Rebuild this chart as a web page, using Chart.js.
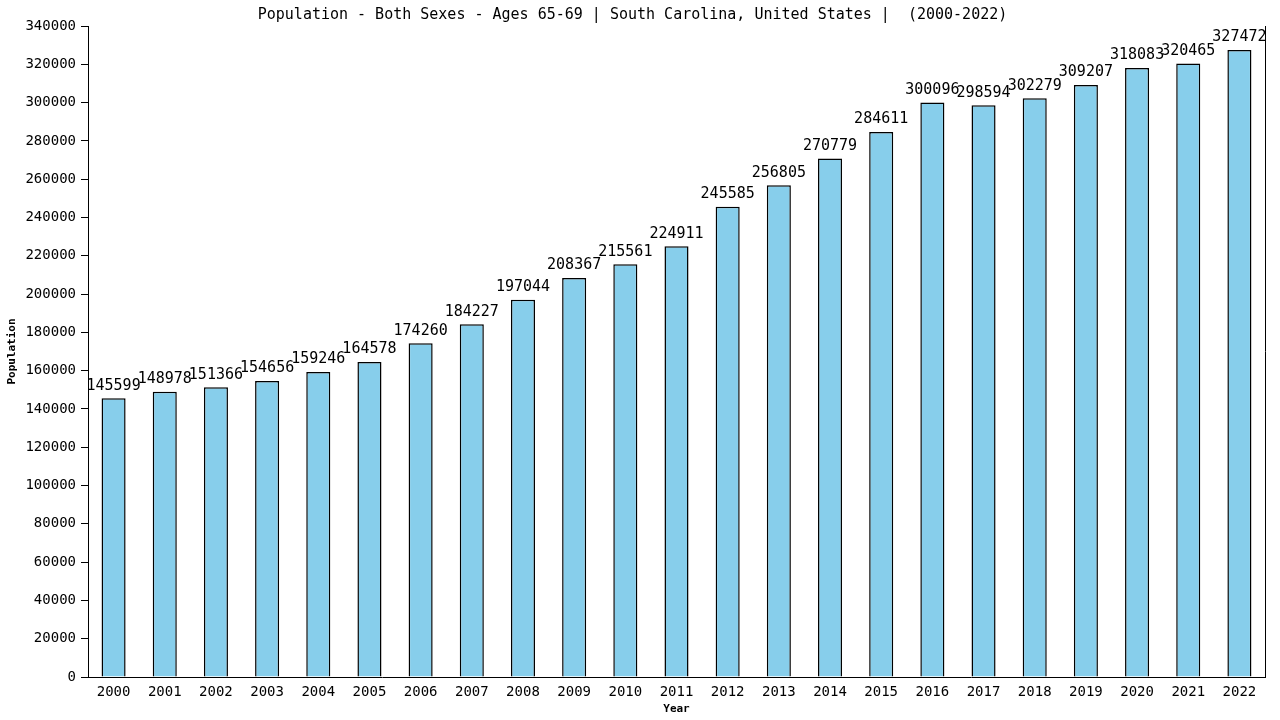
<!DOCTYPE html>
<html><head><meta charset="utf-8">
<script src="https://cdn.jsdelivr.net/npm/chart.js@4/dist/chart.umd.min.js"></script>
<style>html,body{margin:0;padding:0;background:#fff}#wrap{width:1280px;height:720px}</style>
</head><body><div id="wrap"><canvas id="c" width="1280" height="720"></canvas></div>
<script>
const years = ["2000","2001","2002","2003","2004","2005","2006","2007","2008","2009","2010","2011","2012","2013","2014","2015","2016","2017","2018","2019","2020","2021","2022"];
const population = [145599,148978,151366,154656,159246,164578,174260,184227,197044,208367,215561,224911,245585,256805,270779,284611,300096,298594,302279,309207,318083,320465,327472];
const titleText = "Population - Both Sexes - Ages 65-69 | South Carolina, United States |  (2000-2022)";
const MONO = "'DejaVu Sans Mono', 'Liberation Mono', monospace";

const labelPlugin = {
  id: 'barLabels',
  afterDatasetsDraw(chart) {
    const ctx = chart.ctx;
    const meta = chart.getDatasetMeta(0);
    ctx.save();
    ctx.font = "15px " + MONO;
    ctx.fillStyle = "#000";
    ctx.textAlign = "center";
    ctx.textBaseline = "bottom";
    meta.data.forEach((el, i) => {
      ctx.fillText(String(population[i]), el.x, el.y - 5);
    });
    const a = chart.chartArea;
    ctx.strokeStyle = "#000"; ctx.lineWidth = 1;
    ctx.beginPath(); ctx.moveTo(Math.round(a.right)+0.5, a.top); ctx.lineTo(Math.round(a.right)+0.5, a.bottom); ctx.stroke();
    ctx.restore();
  }
};

new Chart(document.getElementById('c'), {
  type: 'bar',
  data: {
    labels: years,
    datasets: [{
      data: population,
      backgroundColor: '#87CEEB',
      borderColor: '#000',
      borderWidth: 1.5,
      borderSkipped: 'bottom',
      barPercentage: 0.47,
      categoryPercentage: 1.0
    }]
  },
  options: {
    responsive: false,
    animation: false,
    layout: { padding: { left: 0, right: 15, top: 0, bottom: 0 } },
    plugins: {
      legend: { display: false },
      tooltip: { enabled: false },
      title: {
        display: true, text: titleText, color: '#000',
        font: { family: MONO, size: 15, weight: 'normal', lineHeight: 1.2 },
        padding: { top: 6, bottom: 2 }
      }
    },
    scales: {
      x: {
        grid: { display: false },
        border: { display: true, color: '#000', width: 1 },
        ticks: { color: '#000', font: { family: MONO, size: 14 }, padding: -1, maxRotation: 0, autoSkip: false },
        title: { display: true, text: 'Year', color: '#000', font: { family: MONO, size: 11, weight: 'bold' }, padding: { top: 0, bottom: 4 } },
        afterFit(s) { s.height = 43; }
      },
      y: {
        min: 0, max: 340000,
        grid: { display: true, drawOnChartArea: false, drawTicks: true, tickLength: 7, color: '#000' },
        border: { display: true, color: '#000', width: 1 },
        ticks: { stepSize: 20000, color: '#000', font: { family: MONO, size: 14 }, padding: 5, callback: v => String(v) },
        title: { display: true, text: 'Population', color: '#000', font: { family: MONO, size: 11, weight: 'bold' }, padding: { top: 6, bottom: 0 } },
        afterFit(s) { s.width = 88; }
      }
    }
  },
  plugins: [labelPlugin]
});
</script>
</body></html>
